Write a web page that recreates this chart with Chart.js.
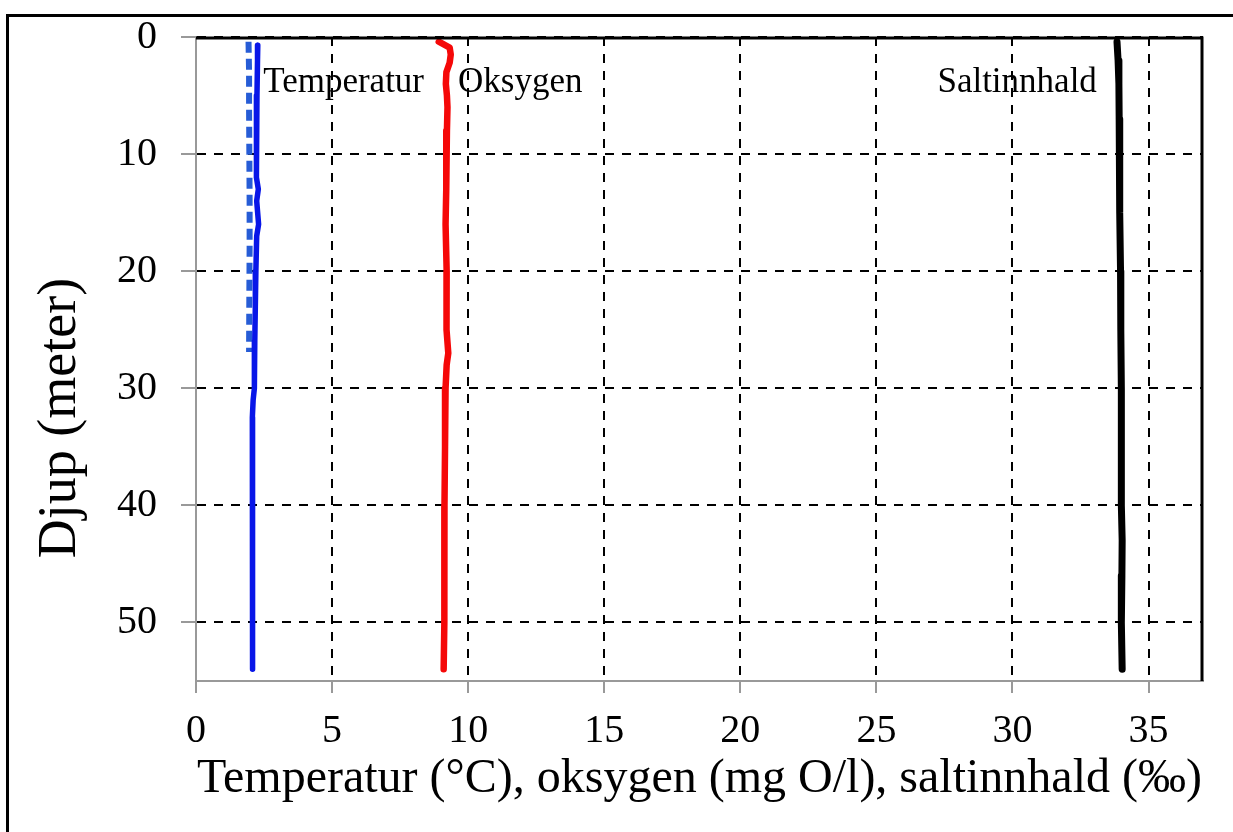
<!DOCTYPE html>
<html>
<head>
<meta charset="utf-8">
<script src="https://cdn.jsdelivr.net/npm/chart.js@4.4.1/dist/chart.umd.min.js"></script>
<style>
    body { margin: 0; background: #fff; }
    #wrap { position: relative; width: 1233px; height: 832px; overflow: hidden; }
    #frame {
        position: absolute; left: 6px; top: 14px; width: 1400px; height: 1000px;
        border-left: 3px solid #000; border-top: 3px solid #000;
    }
    #profileChart { position: absolute; left: 0; top: 0; }
</style>
</head>
<body>
<div id="wrap">
    <div id="frame"></div>
    <canvas id="profileChart" width="1233" height="832"></canvas>
</div>
<script>
// Depth profiles (depth in metres, value on the x axis)
const tempDepth = [0.7, 2, 5, 8, 10, 12, 13, 14, 16, 17, 20, 23, 26, 29, 30, 31, 32.5, 35, 40, 45, 50, 54];
const tempValue = [2.27, 2.26, 2.24, 2.22, 2.21, 2.23, 2.29, 2.23, 2.30, 2.23, 2.20, 2.18, 2.16, 2.15, 2.14, 2.10, 2.07, 2.07, 2.07, 2.08, 2.08, 2.09];

const tempDashDepth = [0.4, 3, 6, 10, 14, 18, 22, 26.9];
const tempDashValue = [1.93, 1.95, 1.95, 1.96, 1.97, 1.97, 1.96, 1.95];

const oxyDepth = [0.4, 0.9, 1.5, 2.2, 3, 4, 5, 6, 8, 10, 13, 16, 20, 23, 25, 27, 28, 30, 35, 40, 45, 50, 54];
const oxyValue = [8.92, 9.32, 9.36, 9.32, 9.20, 9.18, 9.22, 9.24, 9.22, 9.19, 9.20, 9.17, 9.21, 9.20, 9.21, 9.27, 9.21, 9.17, 9.15, 9.13, 9.13, 9.12, 9.10];

const saltDepth = [0.4, 2, 4, 7, 10, 15, 20, 25, 30, 35, 40, 43, 46, 50, 54];
const saltValue = [33.84, 33.88, 33.91, 33.92, 33.93, 33.95, 33.97, 33.98, 34.00, 34.00, 34.00, 34.03, 34.02, 34.00, 34.03];

const xTitle = 'Temperatur (°C), oksygen (mg O/l), saltinnhald (‰)';
const yTitle = 'Djup (meter)';

const serif = "'Liberation Serif', 'Times New Roman', serif";

function toPoints(depths, values) {
    return depths.map((d, i) => ({ x: values[i], y: d }));
}

function lineSet(label, points, color, width, dash) {
    return {
        label: label,
        data: points,
        showLine: true,
        borderColor: color,
        backgroundColor: color,
        borderWidth: width,
        borderDash: dash || [],
        borderCapStyle: dash ? 'butt' : 'round',
        borderJoinStyle: 'round',
        pointRadius: 0,
        tension: 0
    };
}

// Solid frame on top and right of the plot, curve labels and the y title
const decorations = {
    id: 'decorations',
    beforeDatasetsDraw(chart) {
        const { ctx, scales: { x, y } } = chart;
        ctx.save();
        ctx.fillStyle = '#000';
        ctx.font = '35px ' + serif;
        ctx.textBaseline = 'alphabetic';
        ctx.textAlign = 'left';
        ctx.fillText('Temperatur', x.getPixelForValue(2.47), y.getPixelForValue(4.7));
        ctx.fillText('Oksygen', x.getPixelForValue(9.63), y.getPixelForValue(4.7));
        ctx.textAlign = 'right';
        ctx.fillText('Saltinnhald', x.getPixelForValue(33.1), y.getPixelForValue(4.7));
        ctx.restore();
    },
    afterDraw(chart) {
        const { ctx, chartArea: a } = chart;
        ctx.save();
        ctx.strokeStyle = '#000';
        ctx.lineWidth = 3;
        ctx.beginPath();
        ctx.moveTo(a.left, a.top + 1);
        ctx.lineTo(a.right - 1, a.top + 1);
        ctx.lineTo(a.right - 1, a.bottom);
        ctx.stroke();

        ctx.fillStyle = '#000';
        ctx.font = '54px ' + serif;
        ctx.textAlign = 'center';
        ctx.textBaseline = 'middle';
        ctx.translate(61, 418);
        ctx.rotate(-Math.PI / 2);
        ctx.fillText(yTitle, 0, 0);
        ctx.restore();
    }
};

const ctx = document.getElementById('profileChart').getContext('2d');
new Chart(ctx, {
    type: 'scatter',
    data: {
        datasets: [
            lineSet('Temperatur', toPoints(tempDepth, tempValue), 'rgb(8, 22, 232)', 5.5),
            lineSet('Temperatur (2)', toPoints(tempDashDepth, tempDashValue), 'rgb(38, 92, 214)', 6, [11, 6]),
            lineSet('Oksygen', toPoints(oxyDepth, oxyValue), 'rgb(245, 8, 8)', 6.5),
            lineSet('Saltinnhald', toPoints(saltDepth, saltValue), '#000', 7)
        ]
    },
    options: {
        responsive: false,
        animation: false,
        devicePixelRatio: 1,
        layout: { padding: { left: 0, top: 37, right: 30, bottom: 0 } },
        plugins: {
            legend: { display: false },
            tooltip: { enabled: false }
        },
        scales: {
            x: {
                type: 'linear',
                position: 'bottom',
                min: 0,
                max: 37,
                afterFit: scale => {
                    scale.height = 151;
                    scale.paddingLeft = 0;
                    scale.paddingRight = 0;
                },
                ticks: {
                    stepSize: 5,
                    includeBounds: false,
                    padding: 14,
                    color: '#000',
                    font: { family: serif, size: 40 }
                },
                grid: {
                    color: '#000',
                    lineWidth: 2,
                    tickColor: '#999',
                    tickLength: 12,
                    tickWidth: 2
                },
                border: { color: '#999', width: 2, dash: [9, 8] },
                title: {
                    display: true,
                    text: xTitle,
                    color: '#000',
                    font: { family: serif, size: 48 },
                    padding: { top: 0, bottom: 24 }
                }
            },
            y: {
                type: 'linear',
                position: 'left',
                reverse: true,
                min: 0,
                max: 55,
                afterFit: scale => {
                    scale.width = 196;
                    scale.paddingTop = 0;
                    scale.paddingBottom = 0;
                },
                ticks: {
                    stepSize: 10,
                    includeBounds: false,
                    padding: 24,
                    color: '#000',
                    font: { family: serif, size: 40 }
                },
                grid: {
                    color: '#000',
                    lineWidth: 2,
                    tickColor: '#999',
                    tickLength: 15,
                    tickWidth: 2
                },
                border: { color: '#999', width: 2, dash: [9, 8] },
                title: { display: false }
            }
        }
    },
    plugins: [decorations]
});
</script>
</body>
</html>
